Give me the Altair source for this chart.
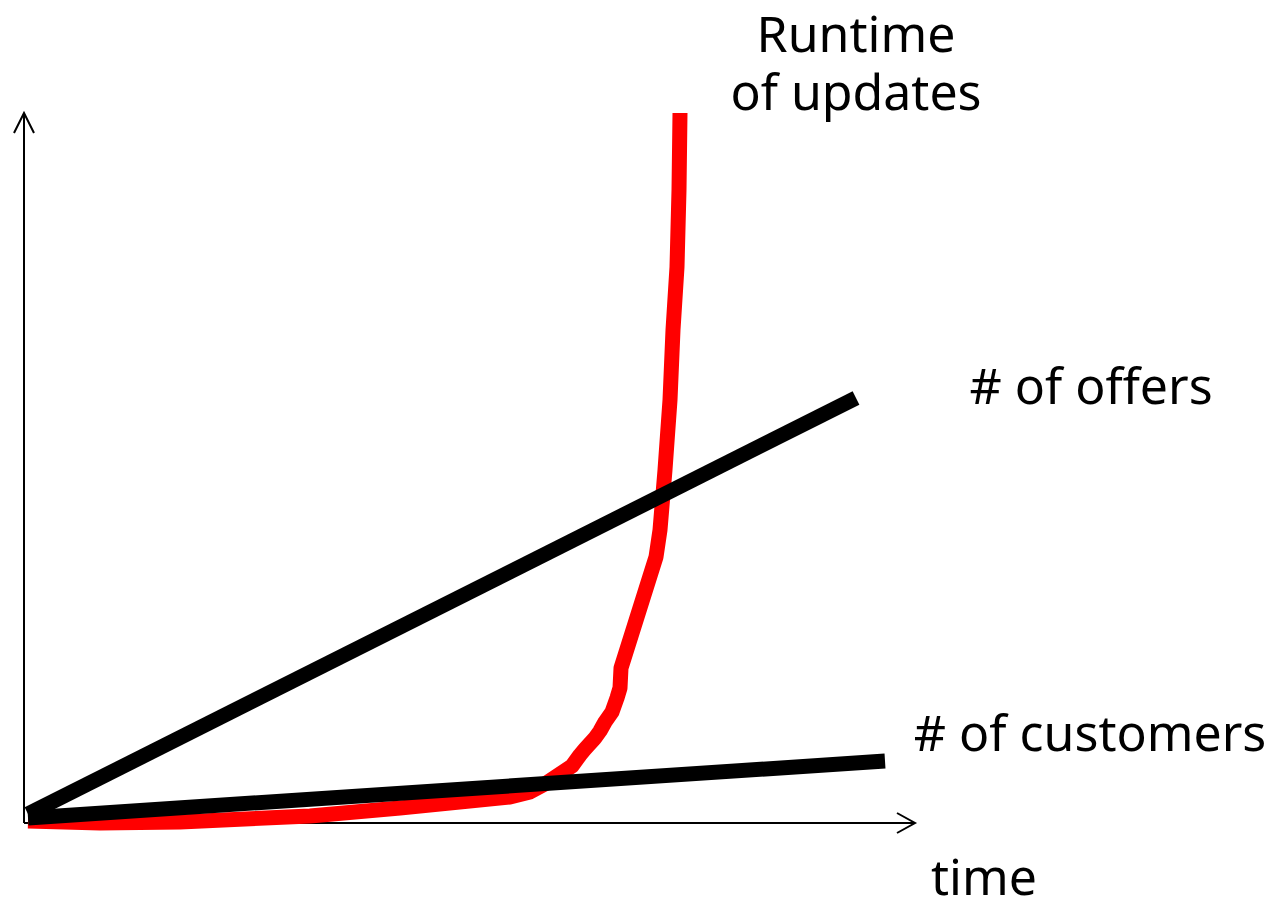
import altair as alt
import pandas as pd

# Coordinates in chart units: x = time from origin, y = value from origin
# Red curve: runtime of updates
runtime_x = [3, 75, 155, 285, 375, 485, 505, 520, 532, 547, 555, 560, 570, 575, 580, 587, 592, 595, 596, 631, 635, 640, 645, 648, 652, 654, 655]
runtime_y = [2, 0, 1, 7, 15, 26, 31, 39, 47, 57, 68, 74, 85, 92, 101, 111, 125, 135, 155, 266, 293, 353, 423, 493, 556, 633, 710]

# Straight black lines
offers_x = [3, 831]
offers_y = [9, 425]
customers_x = [3, 860]
customers_y = [5, 62]

# Axes with arrow heads (segment id, x, y)
axis_seg = ["yaxis", "yaxis", "yarrow", "yarrow", "yarrow", "xaxis", "xaxis", "xarrow", "xarrow", "xarrow"]
axis_x = [-1, -1, -11, -1, 9, -1, 890, 872, 890, 872]
axis_y = [0, 710, 690, 710, 690, 0, 0, 10, 0, -10]

# Labels
label_text = ["Runtime", "of updates", "# of offers", "# of customers", "time"]
label_x = [831, 831, 1066, 1065, 959]
label_y = [771, 713, 419, 72, -72]

X_DOMAIN = [-17, 1253]
Y_DOMAIN = [-73, 815]

xs = alt.Scale(domain=X_DOMAIN, nice=False, zero=False)
ys = alt.Scale(domain=Y_DOMAIN, nice=False, zero=False)

axis_df = pd.DataFrame({"seg": axis_seg, "x": axis_x, "y": axis_y,
                        "i": list(range(len(axis_x)))})
runtime_df = pd.DataFrame({"x": runtime_x, "y": runtime_y, "i": list(range(len(runtime_x)))})
lines_df = pd.DataFrame({
    "series": ["offers"] * 2 + ["customers"] * 2,
    "x": offers_x + customers_x,
    "y": offers_y + customers_y,
    "i": [0, 1, 0, 1],
})
label_df = pd.DataFrame({"text": label_text, "x": label_x, "y": label_y})

axes = alt.Chart(axis_df).mark_line(color="black", strokeWidth=2, strokeCap="butt",
                                    strokeJoin="miter").encode(
    x=alt.X("x:Q", scale=xs, axis=None),
    y=alt.Y("y:Q", scale=ys, axis=None),
    detail="seg:N",
    order="i:Q",
)

runtime = alt.Chart(runtime_df).mark_line(color="#ff0000", strokeWidth=15, strokeCap="butt",
                                          strokeJoin="round").encode(
    x=alt.X("x:Q", scale=xs, axis=None),
    y=alt.Y("y:Q", scale=ys, axis=None),
    order="i:Q",
)

lines = alt.Chart(lines_df).mark_line(color="black", strokeWidth=15, strokeCap="butt").encode(
    x=alt.X("x:Q", scale=xs, axis=None),
    y=alt.Y("y:Q", scale=ys, axis=None),
    detail="series:N",
    order="i:Q",
)

labels = alt.Chart(label_df).mark_text(font="Noto Sans", fontSize=50, color="black",
                                       align="center", baseline="alphabetic").encode(
    x=alt.X("x:Q", scale=xs, axis=None),
    y=alt.Y("y:Q", scale=ys, axis=None),
    text="text:N",
)

chart = alt.layer(axes, runtime, lines, labels).properties(
    width=1270, height=888, padding=0, background="white",
    autosize=alt.AutoSizeParams(type="none"),
).configure_view(stroke=None)

chart.save("out.html", embed_options={"renderer": "svg", "actions": False})
